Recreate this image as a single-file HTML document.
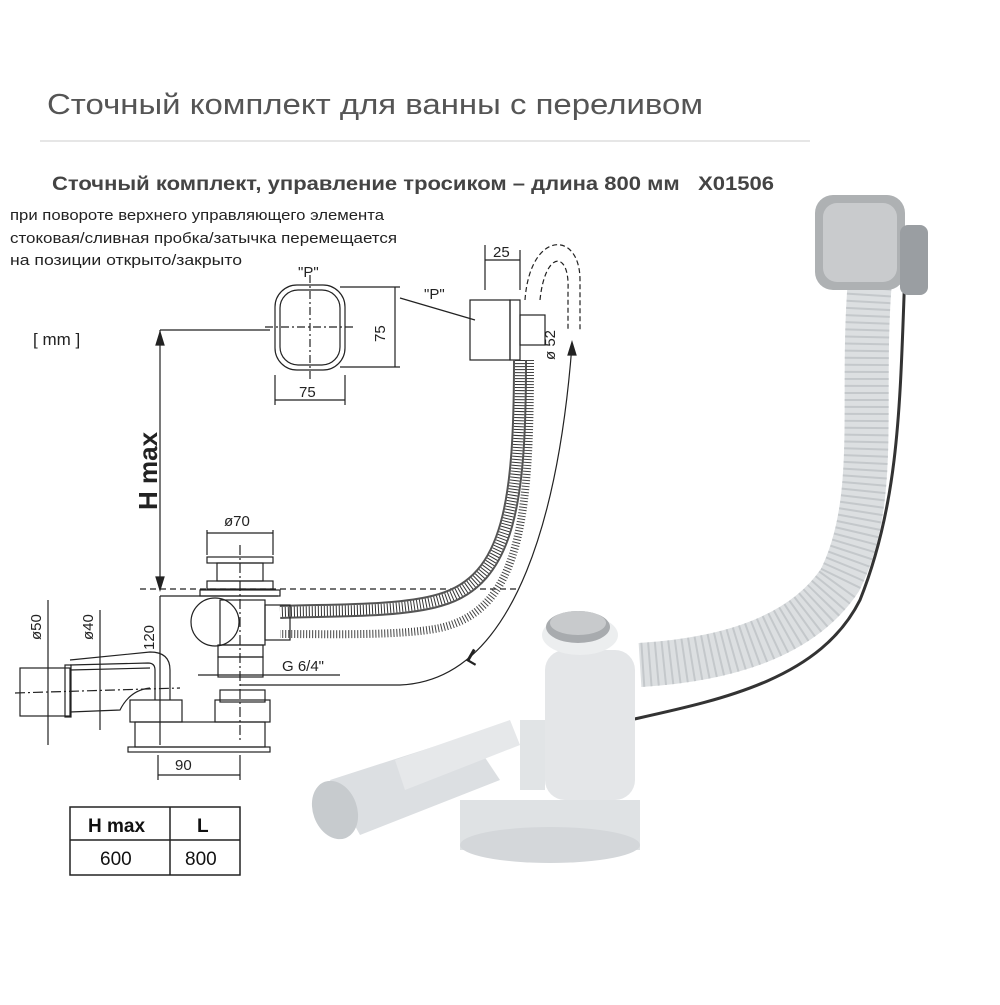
<!DOCTYPE html>
<html><head><meta charset="utf-8"><style>
body{margin:0;background:#fff;width:1000px;height:1000px;overflow:hidden;font-family:"Liberation Sans","Noto Sans CJK JP",sans-serif;}
</style></head><body>
<svg width="1000" height="1000" viewBox="0 0 1000 1000" xmlns="http://www.w3.org/2000/svg" font-family="Liberation Sans, DejaVu Sans, sans-serif">
<rect width="1000" height="1000" fill="#fff"/>
<text x="47" y="114" font-size="29" fill="#555" textLength="656" lengthAdjust="spacingAndGlyphs">Сточный комплект для ванны с переливом</text>
<line x1="40" y1="141" x2="810" y2="141" stroke="#ccc" stroke-width="1"/>
<text x="52" y="190" font-size="19" font-weight="bold" fill="#444" textLength="722" lengthAdjust="spacingAndGlyphs">Сточный комплект, управление тросиком – длина 800 мм &#160;&#160;X01506</text>
<text x="10" y="220" font-size="15" fill="#222" textLength="374" lengthAdjust="spacingAndGlyphs">при повороте верхнего управляющего элемента</text>
<text x="10" y="243" font-size="15" fill="#222" textLength="387" lengthAdjust="spacingAndGlyphs">стоковая/сливная пробка/затычка перемещается</text>
<text x="10" y="265" font-size="15" fill="#222" textLength="232" lengthAdjust="spacingAndGlyphs">на позиции открыто/закрыто</text>
<text x="33" y="345" font-size="17" fill="#222">[ mm ]</text>

<!-- photo -->
<g>
<path d="M870 280 C860 400 880 500 840 580 C800 640 720 660 640 665" fill="none" stroke="#dcdfe1" stroke-width="44"/>
<path d="M870 280 C860 400 880 500 840 580 C800 640 720 660 640 665" fill="none" stroke="#c4c8cb" stroke-width="44" stroke-dasharray="2 5"/>
<path d="M905 270 C900 400 900 500 860 600 C820 680 720 700 630 720" fill="none" stroke="#333" stroke-width="3"/>
<rect x="815" y="195" width="90" height="95" rx="18" fill="#aeb1b3"/>
<rect x="823" y="203" width="74" height="79" rx="14" fill="#c9cbcd"/>
<rect x="900" y="225" width="28" height="70" rx="8" fill="#9a9ea2"/>
<rect x="545" y="650" width="90" height="150" rx="20" fill="#e4e6e8"/>
<ellipse cx="580" cy="635" rx="38" ry="20" fill="#eceeef"/>
<ellipse cx="578" cy="627" rx="32" ry="16" fill="#a8abae"/>
<ellipse cx="578" cy="623" rx="28" ry="12" fill="#c8cacc"/>
<path d="M460 800 L640 800 L640 850 L460 850Z" fill="#dfe2e4"/>
<ellipse cx="550" cy="845" rx="90" ry="18" fill="#d4d7da"/>
<path d="M330 780 L470 735 L500 780 L360 835Z" fill="#dcdfe2"/>
<path d="M395 760 L510 720 L520 745 L405 790Z" fill="#e6e8ea"/>
<ellipse cx="335" cy="810" rx="22" ry="30" fill="#c7cbce" transform="rotate(-20 335 810)"/>
<path d="M520 720 L545 720 L545 790 L520 790Z" fill="#e1e4e6"/>
</g>

<!-- drawing -->
<g stroke="#222" fill="none" stroke-width="1.2">
<line x1="160" y1="330" x2="160" y2="590"/>
<line x1="160" y1="330" x2="270" y2="330"/>
<path d="M156 345 L160 332 L164 345Z" fill="#222"/>
<path d="M156 577 L160 590 L164 577Z" fill="#222"/>
<line x1="140" y1="589" x2="520" y2="589" stroke-dasharray="6 4"/>
<line x1="160" y1="596" x2="278" y2="596"/>
<line x1="160" y1="596" x2="160" y2="745"/>
<rect x="275" y="285" width="70" height="85" rx="22"/>
<rect x="280" y="290" width="60" height="75" rx="18"/>
<line x1="310" y1="275" x2="310" y2="380" stroke-dasharray="8 3 2 3"/>
<line x1="265" y1="327" x2="355" y2="327" stroke-dasharray="8 3 2 3"/>
<line x1="340" y1="287" x2="400" y2="287"/><line x1="340" y1="367" x2="400" y2="367"/>
<line x1="395" y1="287" x2="395" y2="367"/>
<line x1="275" y1="375" x2="275" y2="405"/><line x1="345" y1="375" x2="345" y2="405"/>
<line x1="275" y1="400" x2="345" y2="400"/>
<rect x="470" y="300" width="40" height="60"/>
<rect x="510" y="300" width="10" height="60"/>
<rect x="520" y="315" width="25" height="30"/>
<line x1="400" y1="298" x2="475" y2="320"/>
<line x1="485" y1="245" x2="485" y2="290"/><line x1="520" y1="250" x2="520" y2="290"/>
<line x1="485" y1="260" x2="520" y2="260"/>
<path d="M525 300 C530 230 580 230 580 280 L580 330" stroke-dasharray="5 3"/>
<path d="M540 300 C545 250 570 250 568 290 L568 330" stroke-dasharray="5 3"/>
<path d="M520 360 C520 500 510 580 440 600 C400 612 330 610 280 612" stroke-width="14" stroke="#555"/>
<path d="M520 360 C520 500 510 580 440 600 C400 612 330 610 280 612" stroke-width="10" stroke="#fff"/>
<path d="M520 360 C520 500 510 580 440 600 C400 612 330 610 280 612" stroke-width="10" stroke="#333" stroke-dasharray="1 2"/>
<path d="M530 360 C530 520 520 610 440 628 C400 636 330 634 280 634" stroke-width="8" stroke="#444" stroke-dasharray="1 2"/>
<path d="M572 345 C560 500 520 680 400 685 L240 685"/>
<path d="M568 355 L572 342 L576 355Z" fill="#222"/>
<rect x="207" y="557" width="66" height="6"/>
<rect x="217" y="563" width="46" height="18"/>
<rect x="207" y="581" width="66" height="8"/>
<rect x="200" y="590" width="80" height="6"/>
<circle cx="215" cy="622" r="24"/>
<rect x="220" y="600" width="45" height="45"/>
<rect x="218" y="645" width="45" height="12"/>
<rect x="218" y="657" width="45" height="20"/>
<rect x="265" y="605" width="25" height="35"/>
<line x1="240" y1="545" x2="240" y2="740" stroke-dasharray="10 3 2 3"/>
<line x1="207" y1="530" x2="207" y2="555"/><line x1="273" y1="530" x2="273" y2="555"/>
<line x1="207" y1="533" x2="273" y2="533"/>
<line x1="198" y1="675" x2="340" y2="675"/>
<rect x="220" y="690" width="45" height="12"/>
<rect x="215" y="700" width="55" height="22"/>
<rect x="130" y="700" width="52" height="22"/>
<rect x="135" y="722" width="130" height="25"/>
<rect x="128" y="747" width="142" height="5"/>
<path d="M155 700 L155 670 Q155 663 148 663 L70 665"/>
<path d="M170 700 L170 670 Q170 652 150 652 L70 660"/>
<rect x="20" y="668" width="50" height="48"/>
<rect x="65" y="665" width="6" height="52"/>
<path d="M70 670 L150 668 M70 712 L120 710 Q130 690 150 688"/>
<line x1="15" y1="693" x2="180" y2="688" stroke-dasharray="10 3 2 3"/>
<line x1="48" y1="600" x2="48" y2="745"/><line x1="100" y1="610" x2="100" y2="730"/>
<line x1="158" y1="755" x2="158" y2="780"/><line x1="240" y1="755" x2="240" y2="780"/>
<line x1="158" y1="775" x2="240" y2="775"/>
</g>
<g fill="#222" font-size="15">
<text x="298" y="277">"P"</text>
<text x="424" y="299">"P"</text>
<text x="299" y="397">75</text>
<text x="385" y="342" transform="rotate(-90 385 342)">75</text>
<text x="493" y="257">25</text>
<text x="555" y="360" transform="rotate(-90 555 360)">ø 52</text>
<text x="224" y="526">ø70</text>
<text x="282" y="671">G 6/4"</text>
<text x="175" y="770">90</text>
<text x="154" y="650" transform="rotate(-90 154 650)">120</text>
<text x="41" y="640" transform="rotate(-90 41 640)">ø50</text>
<text x="93" y="640" transform="rotate(-90 93 640)">ø40</text>
<text x="465" y="660" font-size="20" font-weight="bold" transform="rotate(30 465 660)">L</text>
<text x="157" y="510" font-size="26" font-weight="bold" transform="rotate(-90 157 510)">H max</text>
</g>
<g stroke="#222" stroke-width="1.5" fill="none">
<rect x="70" y="807" width="170" height="68"/>
<line x1="70" y1="840" x2="240" y2="840"/>
<line x1="170" y1="807" x2="170" y2="875"/>
</g>
<text x="88" y="832" font-size="19" font-weight="bold" fill="#111">H max</text>
<text x="197" y="832" font-size="19" font-weight="bold" fill="#111">L</text>
<text x="100" y="865" font-size="19" fill="#111">600</text>
<text x="185" y="865" font-size="19" fill="#111">800</text>
</svg>
</body></html>
